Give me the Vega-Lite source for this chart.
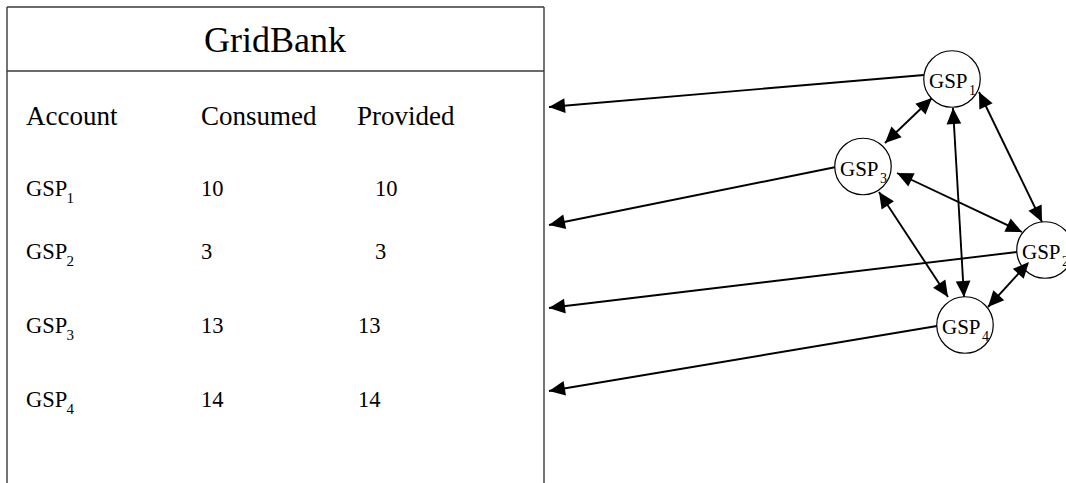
{
  "$schema": "https://vega.github.io/schema/vega-lite/v6.json",
  "width": 1066,
  "height": 483,
  "autosize": {"type": "none"},
  "padding": 0,
  "background": "white",
  "config": {"view": {"stroke": null}, "text": {"font": "Liberation Serif", "color": "black"}},
  "datasets": {
    "box": [
      {"x": 7, "y": 7, "x2": 544, "y2": 7},
      {"x": 7, "y": 7, "x2": 7, "y2": 483},
      {"x": 544, "y": 7, "x2": 544, "y2": 483},
      {"x": 7, "y": 71, "x2": 544, "y2": 71}
    ],
    "title": [{"text": "GridBank", "x": 275, "y": 52}],
    "headers": [
      {"text": "Account", "x": 26, "y": 125},
      {"text": "Consumed", "x": 201, "y": 125},
      {"text": "Provided", "x": 357, "y": 125}
    ],
    "accounts": [
      {"account": "GSP", "sub": "1", "consumed": "10", "provided": "\u200b\u00a0\u00a0\u00a010", "y": 196},
      {"account": "GSP", "sub": "2", "consumed": "3", "provided": "\u200b\u00a0\u00a0\u00a03", "y": 259},
      {"account": "GSP", "sub": "3", "consumed": "13", "provided": "13", "y": 333},
      {"account": "GSP", "sub": "4", "consumed": "14", "provided": "14", "y": 407}
    ],
    "nodes": [
      {"name": "GSP", "sub": "1", "cx": 952, "cy": 79},
      {"name": "GSP", "sub": "3", "cx": 863, "cy": 166.5},
      {"name": "GSP", "sub": "2", "cx": 1045, "cy": 250},
      {"name": "GSP", "sub": "4", "cx": 965, "cy": 325}
    ],
    "links": [
      {"kind": "bank", "x": 924, "y": 75, "x2": 549, "y2": 107},
      {"kind": "bank", "x": 836, "y": 167, "x2": 549, "y2": 225},
      {"kind": "bank", "x": 1017, "y": 252, "x2": 549, "y2": 308},
      {"kind": "bank", "x": 937, "y": 326, "x2": 549, "y2": 391},
      {"kind": "peer", "x": 932, "y": 98, "x2": 885, "y2": 143},
      {"kind": "peer", "x": 979, "y": 92, "x2": 1042, "y2": 222},
      {"kind": "peer", "x": 953, "y": 108, "x2": 964, "y2": 297},
      {"kind": "peer", "x": 897, "y": 173, "x2": 1022, "y2": 232},
      {"kind": "peer", "x": 879, "y": 192, "x2": 948, "y2": 297},
      {"kind": "peer", "x": 1029, "y": 262, "x2": 988, "y2": 307}
    ]
  },
  "layer": [
    {
      "data": {"name": "box"},
      "mark": {"type": "rule", "stroke": "#3a3a3a", "strokeWidth": 1.4},
      "encoding": {
        "x": {"field": "x", "type": "quantitative", "scale": {"domain": [0, 1066], "nice": false, "zero": false}, "axis": null},
        "y": {"field": "y", "type": "quantitative", "scale": {"domain": [0, 483], "reverse": true, "nice": false, "zero": false}, "axis": null},
        "x2": {"field": "x2"},
        "y2": {"field": "y2"}
      }
    },
    {
      "data": {"name": "links"},
      "mark": {"type": "rule", "stroke": "black", "strokeWidth": 1.9},
      "encoding": {
        "x": {"field": "x", "type": "quantitative", "scale": {"domain": [0, 1066], "nice": false, "zero": false}, "axis": null},
        "y": {"field": "y", "type": "quantitative", "scale": {"domain": [0, 483], "reverse": true, "nice": false, "zero": false}, "axis": null},
        "x2": {"field": "x2"},
        "y2": {"field": "y2"}
      }
    },
    {
      "data": {"name": "nodes"},
      "mark": {"type": "point", "shape": "circle", "size": 3190, "filled": true, "fill": "white", "stroke": "black", "strokeWidth": 1.2, "opacity": 1},
      "encoding": {
        "x": {"field": "cx", "type": "quantitative", "scale": {"domain": [0, 1066], "nice": false, "zero": false}, "axis": null},
        "y": {"field": "cy", "type": "quantitative", "scale": {"domain": [0, 483], "reverse": true, "nice": false, "zero": false}, "axis": null}
      }
    },
    {
      "data": {"name": "links"},
      "transform": [{"calculate": "atan2(datum.x2 - datum.x, datum.y - datum.y2) * 180 / PI", "as": "angle"}],
      "mark": {"type": "point", "shape": "M0,0L-0.92,2L0.92,2Z", "size": 256, "filled": true, "fill": "black", "strokeWidth": 0, "opacity": 1},
      "encoding": {
        "x": {"field": "x2", "type": "quantitative", "scale": {"domain": [0, 1066], "nice": false, "zero": false}, "axis": null},
        "y": {"field": "y2", "type": "quantitative", "scale": {"domain": [0, 483], "reverse": true, "nice": false, "zero": false}, "axis": null},
        "angle": {"field": "angle", "type": "quantitative", "scale": null}
      }
    },
    {
      "data": {"name": "links"},
      "transform": [
        {"filter": "datum.kind == 'peer'"},
        {"calculate": "atan2(datum.x - datum.x2, datum.y2 - datum.y) * 180 / PI", "as": "angle"}
      ],
      "mark": {"type": "point", "shape": "M0,0L-0.92,2L0.92,2Z", "size": 256, "filled": true, "fill": "black", "strokeWidth": 0, "opacity": 1},
      "encoding": {
        "x": {"field": "x", "type": "quantitative", "scale": {"domain": [0, 1066], "nice": false, "zero": false}, "axis": null},
        "y": {"field": "y", "type": "quantitative", "scale": {"domain": [0, 483], "reverse": true, "nice": false, "zero": false}, "axis": null},
        "angle": {"field": "angle", "type": "quantitative", "scale": null}
      }
    },
    {
      "data": {"name": "nodes"},
      "mark": {"type": "text", "fontSize": 21, "align": "right", "baseline": "alphabetic", "dx": 15.5, "dy": 9},
      "encoding": {
        "x": {"field": "cx", "type": "quantitative", "scale": {"domain": [0, 1066], "nice": false, "zero": false}, "axis": null},
        "y": {"field": "cy", "type": "quantitative", "scale": {"domain": [0, 483], "reverse": true, "nice": false, "zero": false}, "axis": null},
        "text": {"field": "name"}
      }
    },
    {
      "data": {"name": "nodes"},
      "mark": {"type": "text", "fontSize": 14, "align": "left", "baseline": "alphabetic", "dx": 17, "dy": 16},
      "encoding": {
        "x": {"field": "cx", "type": "quantitative", "scale": {"domain": [0, 1066], "nice": false, "zero": false}, "axis": null},
        "y": {"field": "cy", "type": "quantitative", "scale": {"domain": [0, 483], "reverse": true, "nice": false, "zero": false}, "axis": null},
        "text": {"field": "sub"}
      }
    },
    {
      "data": {"name": "title"},
      "mark": {"type": "text", "fontSize": 36, "align": "center", "baseline": "alphabetic"},
      "encoding": {
        "x": {"field": "x", "type": "quantitative", "scale": {"domain": [0, 1066], "nice": false, "zero": false}, "axis": null},
        "y": {"field": "y", "type": "quantitative", "scale": {"domain": [0, 483], "reverse": true, "nice": false, "zero": false}, "axis": null},
        "text": {"field": "text"}
      }
    },
    {
      "data": {"name": "headers"},
      "mark": {"type": "text", "fontSize": 27, "align": "left", "baseline": "alphabetic"},
      "encoding": {
        "x": {"field": "x", "type": "quantitative", "scale": {"domain": [0, 1066], "nice": false, "zero": false}, "axis": null},
        "y": {"field": "y", "type": "quantitative", "scale": {"domain": [0, 483], "reverse": true, "nice": false, "zero": false}, "axis": null},
        "text": {"field": "text"}
      }
    },
    {
      "data": {"name": "accounts"},
      "mark": {"type": "text", "fontSize": 22.5, "align": "left", "baseline": "alphabetic"},
      "encoding": {
        "x": {"datum": 26, "type": "quantitative", "scale": {"domain": [0, 1066], "nice": false, "zero": false}, "axis": null},
        "y": {"field": "y", "type": "quantitative", "scale": {"domain": [0, 483], "reverse": true, "nice": false, "zero": false}, "axis": null},
        "text": {"field": "account"}
      }
    },
    {
      "data": {"name": "accounts"},
      "mark": {"type": "text", "fontSize": 15, "align": "left", "baseline": "alphabetic", "dy": 7},
      "encoding": {
        "x": {"datum": 66.5, "type": "quantitative", "scale": {"domain": [0, 1066], "nice": false, "zero": false}, "axis": null},
        "y": {"field": "y", "type": "quantitative", "scale": {"domain": [0, 483], "reverse": true, "nice": false, "zero": false}, "axis": null},
        "text": {"field": "sub"}
      }
    },
    {
      "data": {"name": "accounts"},
      "mark": {"type": "text", "fontSize": 22.5, "align": "left", "baseline": "alphabetic"},
      "encoding": {
        "x": {"datum": 201, "type": "quantitative", "scale": {"domain": [0, 1066], "nice": false, "zero": false}, "axis": null},
        "y": {"field": "y", "type": "quantitative", "scale": {"domain": [0, 483], "reverse": true, "nice": false, "zero": false}, "axis": null},
        "text": {"field": "consumed"}
      }
    },
    {
      "data": {"name": "accounts"},
      "mark": {"type": "text", "fontSize": 22.5, "align": "left", "baseline": "alphabetic"},
      "encoding": {
        "x": {"datum": 358, "type": "quantitative", "scale": {"domain": [0, 1066], "nice": false, "zero": false}, "axis": null},
        "y": {"field": "y", "type": "quantitative", "scale": {"domain": [0, 483], "reverse": true, "nice": false, "zero": false}, "axis": null},
        "text": {"field": "provided"}
      }
    }
  ]
}
